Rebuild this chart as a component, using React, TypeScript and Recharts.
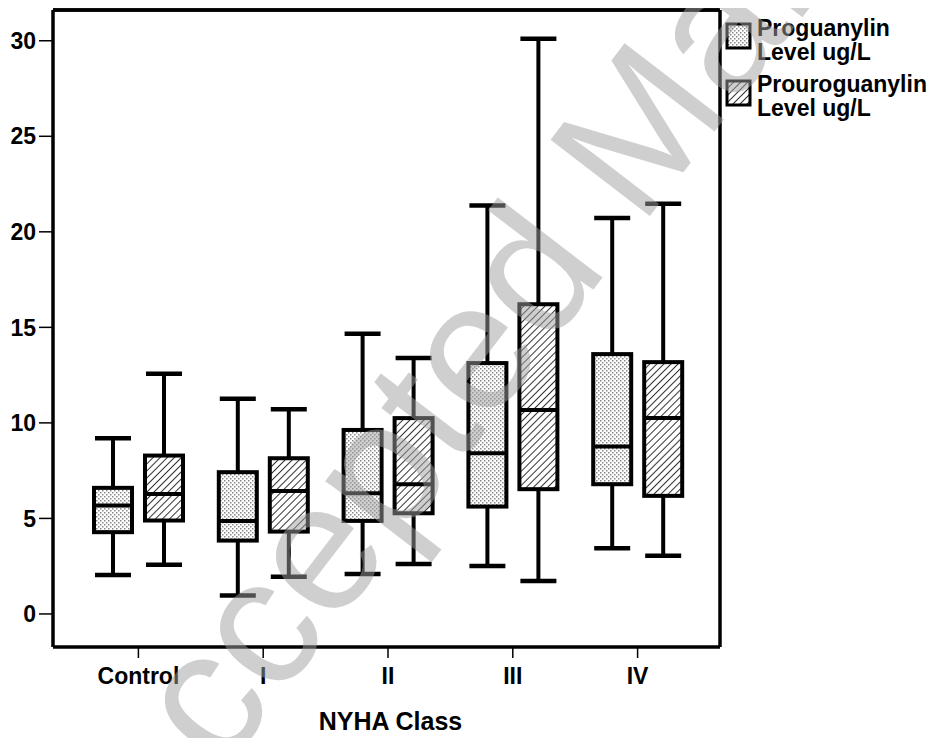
import React from 'react';
import { ComposedChart, Bar, XAxis, YAxis, ReferenceLine } from 'recharts';

const categories = ['Control', 'I', 'II', 'III', 'IV'];

const proMin = [2.04, 0.96, 2.09, 2.51, 3.44];
const proQ1 = [4.28, 3.84, 4.87, 5.62, 6.79];
const proMedian = [5.67, 4.87, 6.32, 8.41, 8.76];
const proQ3 = [6.6, 7.42, 9.63, 13.13, 13.6];
const proMax = [9.2, 11.26, 14.66, 21.38, 20.72];

const prouMin = [2.57, 1.95, 2.62, 1.73, 3.05];
const prouQ1 = [4.89, 4.31, 5.27, 6.53, 6.18];
const prouMedian = [6.28, 6.44, 6.79, 10.68, 10.25];
const prouQ3 = [8.29, 8.15, 10.25, 16.21, 13.18];
const prouMax = [12.57, 10.72, 13.39, 30.1, 21.47];

const yTicks = [0, 5, 10, 15, 20, 25, 30];
const yDomain = [-1.73, 31.61];
const xTitle = 'NYHA Class';
const legendLines = [
  ['Proguanylin', 'Level ug/L'],
  ['Prouroguanylin', 'Level ug/L'],
];
const watermark = 'Accepted Manuscript';

const data = categories.map((cat, i) => ({
  cat,
  pro: [proMin[i], proMax[i]],
  proStats: { lo: proMin[i], q1: proQ1[i], med: proMedian[i], q3: proQ3[i], hi: proMax[i] },
  prou: [prouMin[i], prouMax[i]],
  prouStats: { lo: prouMin[i], q1: prouQ1[i], med: prouMedian[i], q3: prouQ3[i], hi: prouMax[i] },
}));

const FONT = '"Liberation Sans", Arial, sans-serif';

const Patterns = ({ suffix }: { suffix: string }) => (
  <defs>
    <pattern id={`dots${suffix}`} patternUnits="userSpaceOnUse" width="4" height="4">
      <rect width="4" height="4" fill="#fff" />
      <rect x="0" y="0" width="1.5" height="1.5" fill="#888" />
      <rect x="2" y="2" width="1.5" height="1.5" fill="#888" />
    </pattern>
    <pattern id={`hatch${suffix}`} patternUnits="userSpaceOnUse" width="5" height="5" patternTransform="rotate(45)">
      <rect width="5" height="5" fill="#fff" />
      <line x1="0" y1="0" x2="0" y2="5" stroke="#333" strokeWidth="2" />
    </pattern>
  </defs>
);

const makeBox = (statsKey: string, fillId: string) => (props: any) => {
  const { x, y, width, height, payload } = props;
  const s = payload[statsKey];
  const top = Math.min(y, y + height);
  const bottom = Math.max(y, y + height);
  const toY = (v: number) => bottom - ((bottom - top) * (v - s.lo)) / (s.hi - s.lo);
  const cx = x + width / 2;
  const yHi = toY(s.hi);
  const yLo = toY(s.lo);
  const yQ3 = toY(s.q3);
  const yQ1 = toY(s.q1);
  const yMed = toY(s.med);
  return (
    <g>
      <line x1={cx} x2={cx} y1={yHi} y2={yQ3} stroke="#000" strokeWidth={4} />
      <line x1={cx} x2={cx} y1={yQ1} y2={yLo} stroke="#000" strokeWidth={4} />
      <line x1={x + 1} x2={x + width - 1} y1={yHi} y2={yHi} stroke="#000" strokeWidth={4.5} />
      <line x1={x + 1} x2={x + width - 1} y1={yLo} y2={yLo} stroke="#000" strokeWidth={4.5} />
      <rect x={x} y={yQ3} width={width} height={yQ1 - yQ3} fill={`url(#${fillId})`} stroke="#000" strokeWidth={4} />
      <line x1={x} x2={x + width} y1={yMed} y2={yMed} stroke="#000" strokeWidth={4} />
    </g>
  );
};

const tickStyle = { fontSize: 23, fontWeight: 'bold' as const, fill: '#000', fontFamily: FONT };

export default function App() {
  return (
    <div style={{ position: 'relative', width: 931, height: 730 }}>
      <ComposedChart
        width={931}
        height={730}
        data={data}
        margin={{ top: 1, right: 218, bottom: 0, left: 0 }}
        barSize={38}
        barGap={13}
      >
        <Patterns suffix="C" />
        <XAxis
          dataKey="cat"
          xAxisId="main"
          height={91}
          padding={{ left: 23, right: 20 }}
          axisLine={{ stroke: '#000', strokeWidth: 3.5 }}
          tickLine={{ stroke: '#000', strokeWidth: 1.5 }}
          tickSize={11}
          tickMargin={10}
          tick={tickStyle}
          interval={0}
          label={{
            value: xTitle,
            position: 'insideBottom',
            offset: 8,
            dx: 4,
            style: { fontSize: 25, fontWeight: 'bold', fill: '#000', fontFamily: FONT },
          }}
        />
        <XAxis
          dataKey="cat"
          xAxisId="top"
          orientation="top"
          height={1}
          tick={false}
          tickLine={false}
          axisLine={{ stroke: '#000', strokeWidth: 3.5 }}
        />
        <YAxis
          yAxisId="main"
          type="number"
          domain={yDomain}
          ticks={yTicks}
          width={45}
          allowDataOverflow
          axisLine={{ stroke: '#000', strokeWidth: 3.5 }}
          tickLine={{ stroke: '#000', strokeWidth: 1.5 }}
          tickSize={14}
          tickMargin={3}
          tick={tickStyle}
        />
        <YAxis
          yAxisId="right"
          orientation="right"
          type="number"
          domain={yDomain}
          allowDataOverflow
          width={1}
          tick={false}
          tickLine={false}
          axisLine={{ stroke: '#000', strokeWidth: 3.5 }}
        />
        <ReferenceLine
          y={yDomain[1]}
          xAxisId="main"
          yAxisId="main"
          stroke="#000"
          strokeWidth={3.5}
          ifOverflow="visible"
        />
        <Bar
          dataKey="pro"
          xAxisId="main"
          yAxisId="main"
          isAnimationActive={false}
          shape={makeBox('proStats', 'dotsC')}
        />
        <Bar
          dataKey="prou"
          xAxisId="main"
          yAxisId="main"
          isAnimationActive={false}
          shape={makeBox('prouStats', 'hatchC')}
        />
      </ComposedChart>
      <svg
        width={931}
        height={730}
        style={{ position: 'absolute', left: 0, top: 0, pointerEvents: 'none', overflow: 'hidden' }}
      >
        <Patterns suffix="L" />
        {legendLines.map((lines, i) => (
          <g key={i}>
            <rect
              x={719}
              y={16 + i * 57}
              width={23}
              height={24}
              fill={`url(#${i === 0 ? 'dotsL' : 'hatchL'})`}
              stroke="#000"
              strokeWidth={3}
            />
            {lines.map((t, j) => (
              <text
                key={j}
                x={749}
                y={28 + i * 56 + j * 24}
                fontSize={23}
                fontWeight="bold"
                fontFamily={FONT}
                fill="#000"
              >
                {t}
              </text>
            ))}
          </g>
        ))}
        <text
          x={140}
          y={862}
          transform="rotate(-52.5 140 862)"
          fontSize={182}
          fontFamily={FONT}
          fill="#a0a0a0"
          fillOpacity={0.5}
        >
          {watermark}
        </text>
      </svg>
    </div>
  );
}
